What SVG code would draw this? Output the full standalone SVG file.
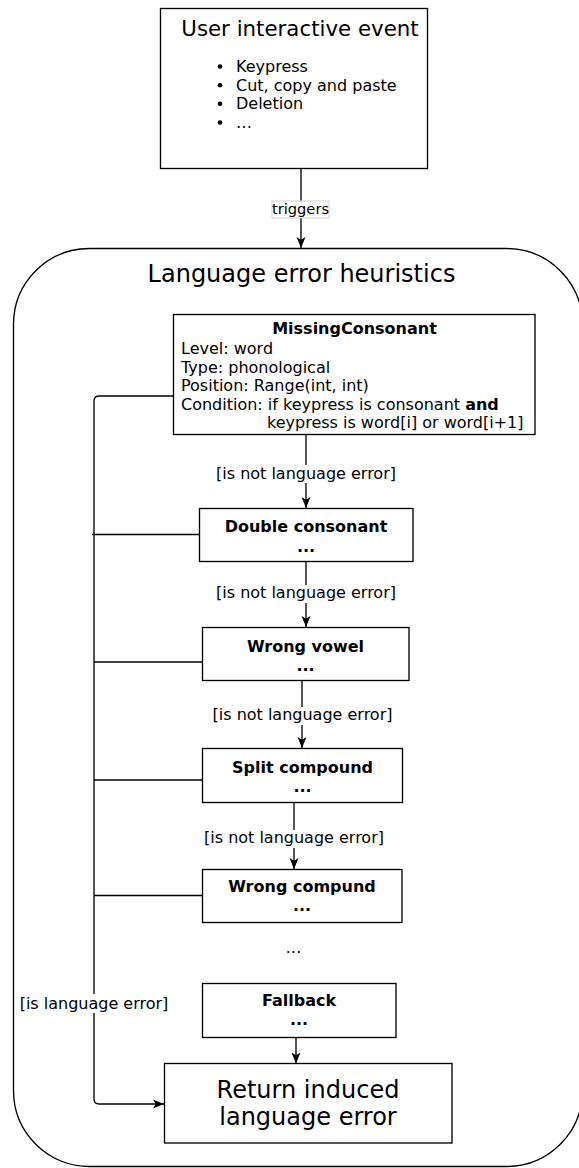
<svg xmlns="http://www.w3.org/2000/svg" width="579" height="1168" viewBox="0 0 579 1168">
<style>
text{font-family:"DejaVu Sans","Liberation Sans",sans-serif;fill:#000}
.box{fill:#fff;stroke:#000;stroke-width:1.33}
.ln{fill:none;stroke:#000;stroke-width:1.33}
.t16{font-size:16px}
.b16{font-size:16px;font-weight:bold}
.big{font-size:24px}
.mid{font-size:21.33px}
.lbl{font-size:16px}
.c{text-anchor:middle}
</style>
<defs>
<marker id="arr" viewBox="0 0 11 10" refX="11" refY="5" markerWidth="11" markerHeight="10" markerUnits="userSpaceOnUse" orient="auto">
<path d="M0,0.5 L11,5 L0,9.5 L2.8,5 z" fill="#000"/>
</marker>
</defs>

<g id="container">
<rect x="13.5" y="248.5" width="569" height="918" rx="76" ry="76" fill="#fff" stroke="#000" stroke-width="1.33"/>
<text class="big c" x="301.5" y="282">Language error heuristics</text>
</g>

<g id="user-event">
<rect class="box" x="160.5" y="8.5" width="267" height="160"/>
<text class="mid c" x="300" y="36">User interactive event</text>
<circle cx="220" cy="66.5" r="2.3"/>
<circle cx="220" cy="85.2" r="2.3"/>
<circle cx="220" cy="103.8" r="2.3"/>
<circle cx="220" cy="122.5" r="2.3"/>
<text class="t16" x="236" y="72">Keypress</text>
<text class="t16" x="236" y="90.7">Cut, copy and paste</text>
<text class="t16" x="236" y="109.3">Deletion</text>
<text class="t16" x="236" y="128">…</text>
</g>

<g id="connectors">
<path class="ln" d="M301,168.5 V248" marker-end="url(#arr)"/>
<rect x="272" y="201" width="57" height="17" fill="#fff" stroke="#d0d0d0" stroke-width="1"/>
<text class="c" style="font-size:14.67px" x="300.5" y="214">triggers</text>

<path class="ln" d="M306,434.5 V508" marker-end="url(#arr)"/>
<rect x="216" y="465" width="180" height="18" fill="#fff"/>
<text class="lbl c" x="306" y="479">[is not language error]</text>

<path class="ln" d="M306,561.5 V627" marker-end="url(#arr)"/>
<rect x="216" y="585" width="180" height="18" fill="#fff"/>
<text class="lbl c" x="306" y="598">[is not language error]</text>

<path class="ln" d="M302,680.5 V748" marker-end="url(#arr)"/>
<rect x="212" y="707" width="180" height="18" fill="#fff"/>
<text class="lbl c" x="302.5" y="720">[is not language error]</text>

<path class="ln" d="M294,802.5 V869" marker-end="url(#arr)"/>
<rect x="204" y="830" width="180" height="18" fill="#fff"/>
<text class="lbl c" x="294" y="843">[is not language error]</text>

<path class="ln" d="M296,1020 V1063.5" marker-end="url(#arr)"/>

<path class="ln" d="M173.5,396 H99 Q94,396 94,401 V1099 Q94,1104 99,1104 H164" marker-end="url(#arr)"/>
<path class="ln" d="M92,534.5 H199"/>
<path class="ln" d="M94,662 H202"/>
<path class="ln" d="M94,780 H202"/>
<path class="ln" d="M94,895.5 H202"/>
<rect x="19" y="994" width="150" height="19" fill="#fff"/>
<text class="lbl c" x="94" y="1009">[is language error]</text>
</g>

<g id="missing-consonant">
<rect class="box" x="173.5" y="314.5" width="361.5" height="120"/>
<text class="b16 c" x="354.5" y="334">MissingConsonant</text>
<text class="t16" x="181" y="354">Level: word</text>
<text class="t16" x="181" y="372.7">Type: phonological</text>
<text class="t16" x="181" y="391.3">Position: Range(int, int)</text>
<text class="t16" x="181" y="409.7">Condition: if keypress is consonant <tspan font-weight="bold">and</tspan></text>
<text class="t16" x="267" y="428">keypress is word[i] or word[i+1]</text>
</g>

<g id="double-consonant">
<rect class="box" x="199.5" y="508.5" width="213.5" height="53"/>
<text class="b16 c" x="306" y="532">Double consonant</text>
<text class="b16 c" x="306" y="552">...</text>
</g>

<g id="wrong-vowel">
<rect class="box" x="202.5" y="627.5" width="206.5" height="53"/>
<text class="b16 c" x="305.5" y="652">Wrong vowel</text>
<text class="b16 c" x="305.5" y="671">...</text>
</g>

<g id="split-compound">
<rect class="box" x="202.5" y="748.5" width="200" height="54"/>
<text class="b16 c" x="302.5" y="773">Split compound</text>
<text class="b16 c" x="302.5" y="792">...</text>
</g>

<g id="wrong-compund">
<rect class="box" x="202.5" y="869.5" width="199.5" height="53"/>
<text class="b16 c" x="302" y="892">Wrong compund</text>
<text class="b16 c" x="302" y="911">...</text>
</g>

<g id="ellipsis">
<text class="t16 c" x="293.5" y="953">…</text>
</g>

<g id="fallback">
<rect class="box" x="202.5" y="983.5" width="193.5" height="54"/>
<text class="b16 c" x="299" y="1006">Fallback</text>
<text class="b16 c" x="299" y="1025">...</text>
</g>

<g id="return-error">
<rect class="box" x="164.5" y="1063.5" width="287.5" height="79.5"/>
<text class="big c" x="308" y="1098">Return induced</text>
<text class="big c" x="308" y="1125">language error</text>
</g>
</svg>
